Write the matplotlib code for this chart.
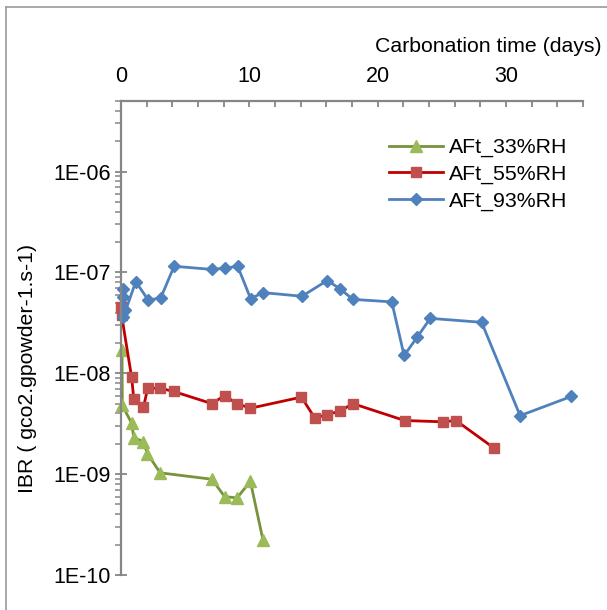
import matplotlib.pyplot as plt
from matplotlib.lines import Line2D
from matplotlib.ticker import FixedLocator, MultipleLocator, NullFormatter
import numpy as np

plt.rcParams['font.family'] = ['Liberation Sans', 'DejaVu Sans']

# Donnees
t_33 = [0.08, 0.1, 0.83, 1.0, 1.75, 2.05, 3.05, 7.08, 8.07, 9.04, 10.08, 11.07]
ibr_33 = [1.7e-8, 4.8e-9, 3.2e-9, 2.3e-9, 2.1e-9, 1.6e-9, 1.03e-9, 8.9e-10,
          6.0e-10, 5.8e-10, 8.5e-10, 2.2e-10]

t_55 = [0.0, 0.04, 0.83, 1.0, 1.75, 2.08, 3.07, 4.1, 7.08, 8.07, 9.04, 10.08,
        14.06, 15.1, 16.07, 17.05, 18.07, 22.1, 25.1, 26.1, 29.1]
ibr_55 = [4.5e-8, 3.8e-8, 9.1e-9, 5.5e-9, 4.6e-9, 7.1e-9, 7.1e-9, 6.6e-9, 5.0e-9,
          6.0e-9, 5.0e-9, 4.5e-9, 5.8e-9, 3.6e-9, 3.9e-9, 4.2e-9, 5.0e-9, 3.4e-9,
          3.3e-9, 3.4e-9, 1.8e-9]

t_93 = [0.12, 0.12, 0.3, 0.18, 1.15, 2.13, 3.1, 4.14, 7.08, 8.07, 9.09, 10.1,
        11.07, 14.1, 16.07, 17.05, 18.07, 21.1, 22.06, 23.1, 24.1, 28.1, 31.1, 35.1]
ibr_93 = [6.8e-8, 5.7e-8, 4.2e-8, 3.6e-8, 8.1e-8, 5.3e-8, 5.6e-8, 1.15e-7, 1.07e-7,
          1.10e-7, 1.15e-7, 5.5e-8, 6.3e-8, 5.8e-8, 8.3e-8, 6.9e-8, 5.4e-8, 5.1e-8,
          1.5e-8, 2.3e-8, 3.5e-8, 3.2e-8, 3.8e-9, 5.9e-9]

y_ticks = [1e-10, 1e-9, 1e-8, 1e-7, 1e-6]
y_labels = ['1E-10', '1E-09', '1E-08', '1E-07', '1E-06']
y_minor = [m * d for d in [1e-10, 1e-9, 1e-8, 1e-7, 1e-6] for m in range(2, 10) if m * d < 5e-6]

W, H = 607, 610
fig = plt.figure(figsize=(W / 100, H / 100), dpi=100)
ax = fig.add_axes([121 / W, 1 - 575 / H, 462 / W, 474 / H])

# cadre gris du graphique (bords gauche et haut seulement)
fig.lines.append(Line2D([5.5 / W, 5.5 / W], [0, 1 - 7 / H], transform=fig.transFigure,
                        color='#9a9a9a', lw=1.2))
fig.lines.append(Line2D([5.5 / W, 1], [1 - 7 / H, 1 - 7 / H], transform=fig.transFigure,
                        color='#9a9a9a', lw=1.2))

ax.plot(t_33, ibr_33, color='#77933C', lw=2, marker='^', ms=8,
        mfc='#9BBB59', mec='#9BBB59', label='AFt_33%RH', clip_on=False)
ax.plot(t_55, ibr_55, color='#C00000', lw=2, marker='s', ms=7.5,
        mfc='#C0504D', mec='#C0504D', label='AFt_55%RH', clip_on=False)
ax.plot(t_93, ibr_93, color='#4F81BD', lw=2, marker='D', ms=6,
        mfc='#4F81BD', mec='#4F81BD', label='AFt_93%RH', clip_on=False)

ax.set_yscale('log')
ax.set_xlim(0, 36)
ax.set_ylim(1e-10, 5e-6)

gray = '#868686'
for s in ['right', 'bottom']:
    ax.spines[s].set_visible(False)
for s in ['left', 'top']:
    ax.spines[s].set_color(gray)
    ax.spines[s].set_linewidth(1.6)

ax.xaxis.set_ticks_position('top')
ax.xaxis.set_label_position('top')
ax.xaxis.set_major_locator(MultipleLocator(10))
ax.xaxis.set_minor_locator(MultipleLocator(2))
ax.tick_params(axis='x', which='both', direction='in', length=4, width=1.3,
               color=gray, labelsize=15.5, pad=10)

ax.set_yticks(y_ticks)
ax.set_yticklabels(y_labels)
ax.yaxis.set_minor_locator(FixedLocator(y_minor))
ax.yaxis.set_minor_formatter(NullFormatter())
ax.tick_params(axis='y', which='major', direction='inout', length=9, width=1.3,
               color=gray, labelsize=15.5, pad=3)
ax.tick_params(axis='y', which='minor', direction='out', length=4, width=1.1, color=gray)

fig.text(602 / W, 1 - 47 / H, 'Carbonation time (days)', ha='right', va='center', fontsize=15.3)
fig.text(28 / W, 1 - 368 / H, 'IBR ( gco2.gpowder-1.s-1)', rotation=90,
         ha='center', va='center', fontsize=15.3)

ax.legend(loc='upper left', bbox_to_anchor=(389 / W, 1 - 138 / H),
          bbox_transform=fig.transFigure, frameon=False, fontsize=15.3,
          handlelength=2.55, handletextpad=0.28, labelspacing=0.36, borderpad=0,
          borderaxespad=0)

fig.savefig('out.png', dpi=100)
